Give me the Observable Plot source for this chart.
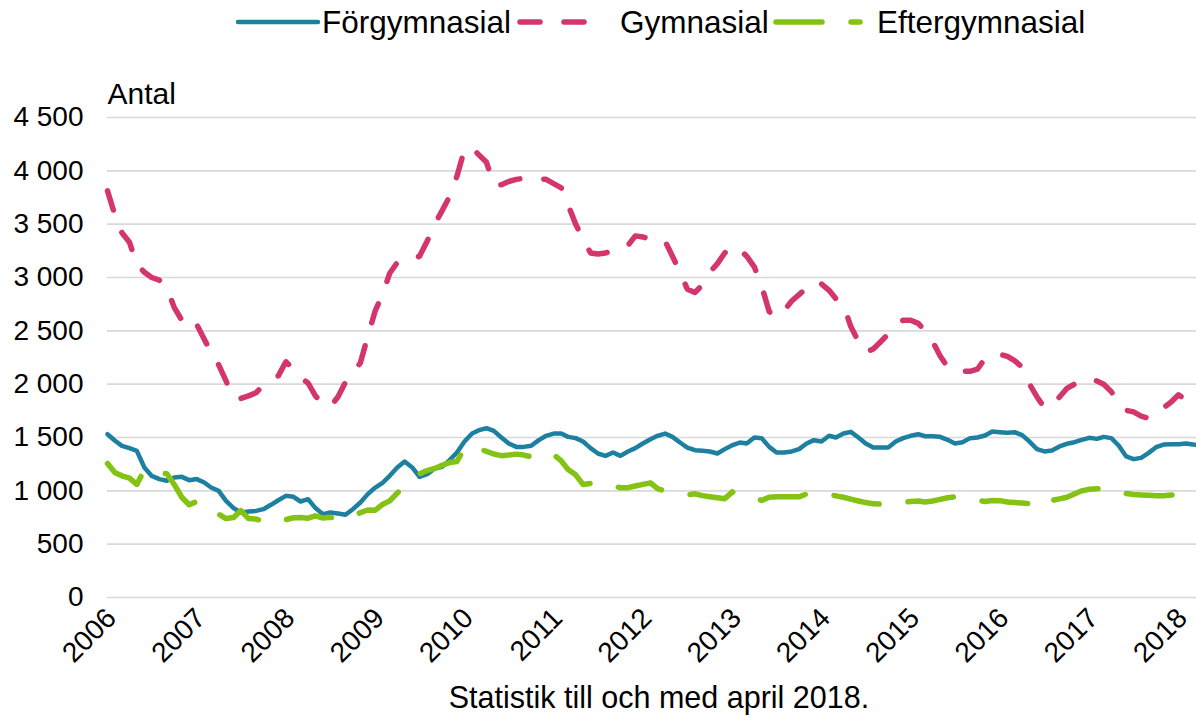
<!DOCTYPE html>
<html><head><meta charset="utf-8">
<script src="https://cdn.jsdelivr.net/npm/d3@7"></script>
<script src="https://cdn.jsdelivr.net/npm/@observablehq/plot@0.6"></script>
<style>
body{margin:0;background:#fff;font-family:"Liberation Sans",Arial,sans-serif;}
#wrap{position:relative;width:1196px;height:718px;overflow:hidden;background:#fff;}
#legend{position:absolute;top:0;left:0;}
#chart{position:absolute;top:45px;left:0;}
#caption{position:absolute;top:677px;left:309px;width:700px;text-align:center;font-size:30.5px;line-height:40px;color:#000;}
</style></head><body>
<div id="wrap">
<svg id="legend" width="1196" height="45"></svg>
<div id="chart"></div>
<div id="caption">Statistik till och med april 2018.</div>
</div>
<script>
// Monthly series, January 2006 – April 2018
const startMonth = [2006, 0];
const endMonth = [2018, 3];
const seriesNames = ["Förgymnasial", "Gymnasial", "Eftergymnasial"];
const seriesColors = ["#1d80a1", "#d5356f", "#84c314"];

const forgymnasial = [1531,1469,1422,1400,1375,1219,1140,1110,1094,1125,
 1131,1100,1110,1078,1031,1000,906,838,797,806,
 812,828,869,912,953,944,900,922,838,781,
 797,788,775,828,890,969,1031,1078,1141,1219,
 1275,1219,1131,1156,1209,1225,1288,1359,1462,1537,
 1569,1587,1562,1500,1444,1412,1412,1422,1475,1516,
 1537,1537,1506,1494,1462,1400,1350,1328,1359,1328,
 1369,1400,1444,1484,1516,1537,1506,1453,1406,1381,
 1375,1369,1350,1391,1428,1453,1444,1500,1494,1412,
 1359,1359,1369,1391,1444,1475,1462,1516,1500,1537,
 1553,1500,1444,1406,1406,1406,1462,1494,1516,1531,
 1512,1512,1506,1478,1444,1456,1494,1500,1519,1556,
 1550,1544,1550,1522,1462,1391,1369,1378,1416,1441,
 1456,1478,1497,1487,1506,1494,1425,1322,1297,1309,
 1356,1409,1434,1437,1437,1444,1434,1430];

const gymnasial = [3812,3580,3420,3330,3120,3050,3000,2975,2900,2720,
 2600,2640,2560,2420,2300,2180,2030,1870,1866,1890,
 1920,1990,2040,2078,2210,2140,2060,2010,1890,1810,
 1790,1880,2020,2110,2200,2450,2690,2850,3040,3141,
 3160,3170,3200,3340,3500,3625,3760,3950,4200,4215,
 4150,4080,3870,3870,3900,3920,3930,3935,3925,3920,
 3880,3840,3680,3500,3360,3230,3220,3230,3250,3280,
 3300,3390,3380,3360,3360,3340,3200,3050,2890,2860,
 2930,3050,3130,3230,3290,3260,3200,3100,2920,2680,
 2630,2690,2780,2840,2900,2960,2940,2880,2800,2740,
 2540,2400,2300,2330,2400,2470,2540,2600,2600,2570,
 2500,2400,2266,2160,2125,2120,2120,2140,2240,2270,
 2281,2260,2220,2160,2000,1880,1780,1800,1880,1960,
 2000,2040,2045,2030,2000,1930,1820,1755,1740,1700,
 1680,1720,1780,1830,1900,1850,1800,1760];

const eftergymnasial = [1256,1170,1141,1119,1060,1200,1190,1170,1160,1060,
 940,870,900,860,820,780,740,750,815,740,
 735,715,695,710,730,748,750,744,766,745,
 752,735,740,770,795,820,819,875,906,980,
 1040,1100,1160,1190,1210,1240,1265,1275,1400,1425,
 1395,1370,1345,1330,1335,1344,1335,1320,1306,1306,
 1340,1280,1200,1150,1060,1070,1078,1065,1050,1028,
 1030,1045,1060,1075,1020,1000,985,975,963,972,
 955,945,935,925,990,960,950,940,910,940,
 945,945,945,944,970,975,975,965,953,940,
 922,905,890,878,875,875,880,891,900,905,
 895,905,920,935,944,930,922,910,900,910,
 908,895,890,885,880,875,935,910,925,940,
 970,1000,1015,1020,1020,1010,980,975,965,962,
 958,955,955,960,965,969,963,960];

const yTicks = [0, 500, 1000, 1500, 2000, 2500, 3000, 3500, 4000, 4500];
const yearTicks = [2006, 2007, 2008, 2009, 2010, 2011, 2012, 2013, 2014, 2015, 2016, 2017, 2018];

const dashes = [null, "20,24", "46,29"];
const widths = [4.5, 5.5, 5.5];

const months = d3.utcMonth.range(new Date(Date.UTC(startMonth[0], startMonth[1], 1)), new Date(Date.UTC(endMonth[0], endMonth[1] + 1, 1)));
const allSeries = [forgymnasial, gymnasial, eftergymnasial];
const tables = allSeries.map((vals, s) => vals.map((v, i) => ({date: months[i], value: v, series: seriesNames[s]})));

const fmt = d => d3.format(",")(d).replace(/,/g, " ");
const font = "'Liberation Sans', Arial, sans-serif";

const chart = Plot.plot({
  width: 1196,
  height: 625,
  marginTop: 72,
  marginBottom: 73,
  marginLeft: 107,
  marginRight: 0,
  style: {fontFamily: font, fontSize: "28px", color: "#000", background: "white"},
  x: {type: "utc", domain: [months[0], months[months.length - 1]], range: [107, 1200]},
  y: {domain: [0, 4500]},
  marks: [
    Plot.gridY(yTicks, {stroke: "#d9d9d9", strokeOpacity: 1, strokeWidth: 1.6}),
    Plot.axisY(yTicks, {tickSize: 0, tickPadding: 24, tickFormat: fmt, label: null, fontSize: 28, fill: "#000"}),
    Plot.axisX(yearTicks.map(y => new Date(Date.UTC(y, 0, 1))), {tickSize: 0, tickPadding: 16, dx: 4, tickRotate: -45, tickFormat: "%Y", label: null, fontSize: 28, fill: "#000"}),
    Plot.text(["Antal"], {frameAnchor: "top-left", dy: -35, textAnchor: "start", fontSize: 30, fill: "#000"}),
    ...tables.map((t, s) => Plot.line(t, {x: "date", y: "value", stroke: seriesColors[s], strokeWidth: widths[s], strokeDasharray: dashes[s], strokeLinecap: "round", strokeLinejoin: "round"}))
  ]
});
document.getElementById("chart").appendChild(chart);

// Legend
const lg = d3.select("#legend");
const legendItems = [
  {sx: [238, 318], tx: 322},
  {sx: [520, 602], tx: 620},
  {sx: [776, 860], tx: 877}
];
legendItems.forEach((it, s) => {
  lg.append("line").attr("x1", it.sx[0]).attr("x2", it.sx[1]).attr("y1", 22).attr("y2", 22)
    .attr("stroke", seriesColors[s]).attr("stroke-width", widths[s]).attr("stroke-linecap", "round")
    .attr("stroke-dasharray", dashes[s]);
  lg.append("text").attr("x", it.tx).attr("y", 22).attr("dy", "0.35em")
    .attr("font-family", font).attr("font-size", 31.5).attr("fill", "#000").text(seriesNames[s]);
});
</script>
</body></html>
